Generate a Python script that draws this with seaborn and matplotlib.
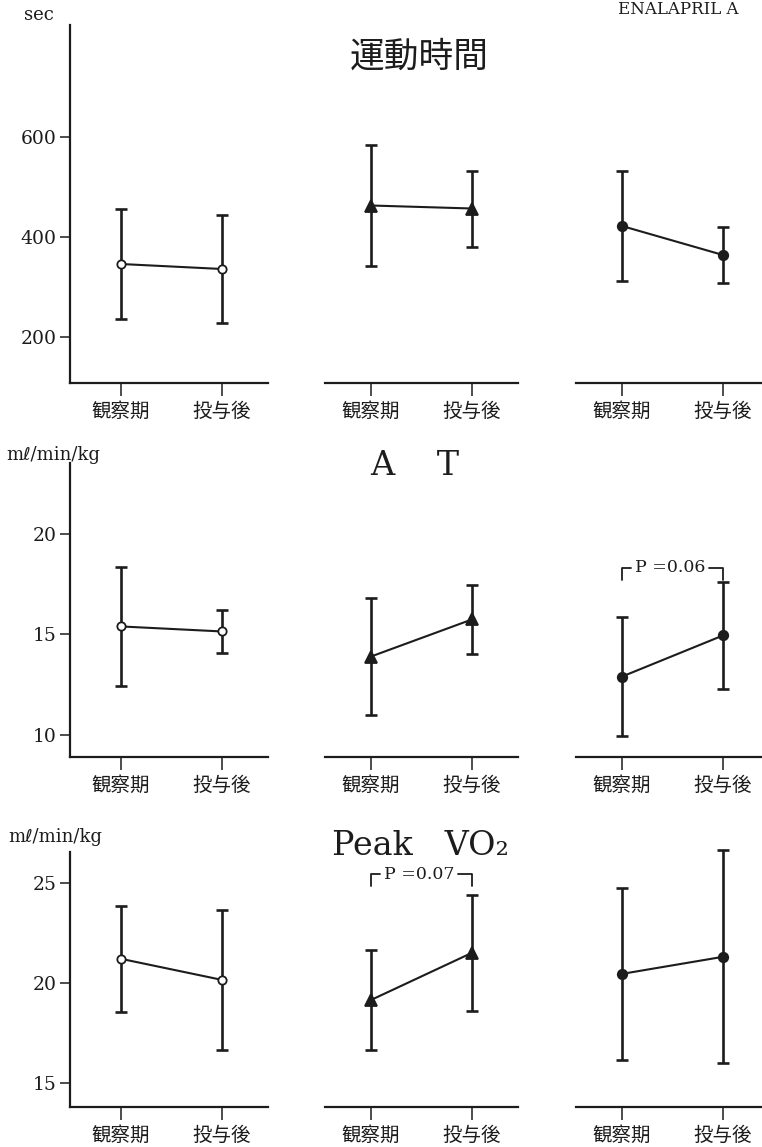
import matplotlib
matplotlib.use("Agg")
import matplotlib.pyplot as plt
import seaborn as sns
import pandas as pd

# x categories
periods = ["観察期", "投与後"]

# 運動時間 (sec), mean and SD for the three groups
ex_g1_mean = [345, 335]
ex_g1_sd = [110, 108]
ex_g2_mean = [462, 456]
ex_g2_sd = [121, 76]
ex_g3_mean = [421, 363]
ex_g3_sd = [110, 56]

# AT (ml/min/kg)
at_g1_mean = [15.4, 15.15]
at_g1_sd = [2.95, 1.05]
at_g2_mean = [13.9, 15.75]
at_g2_sd = [2.9, 1.7]
at_g3_mean = [12.9, 14.95]
at_g3_sd = [2.95, 2.65]

# Peak VO2 (ml/min/kg)
vo_g1_mean = [21.2, 20.15]
vo_g1_sd = [2.65, 3.5]
vo_g2_mean = [19.15, 21.5]
vo_g2_sd = [2.5, 2.9]
vo_g3_mean = [20.45, 21.3]
vo_g3_sd = [4.3, 5.3]

ex_ticks = [200, 400, 600]
at_ticks = [10, 15, 20]
vo_ticks = [15, 20, 25]

W, H = 762, 1147
INK = "#1c1c1c"
SERIF = ["DejaVu Serif", "DejaVu Sans"]
JP = ["Noto Sans CJK JP", "DejaVu Sans"]

sns.set_theme(style="ticks")
plt.rcParams["font.family"] = SERIF
plt.rcParams["axes.edgecolor"] = INK
plt.rcParams["xtick.color"] = INK
plt.rcParams["ytick.color"] = INK

fig = plt.figure(figsize=(W / 100, H / 100), dpi=100)
fig.patch.set_facecolor("white")


def px_axes(left, top, width, bottom):
    return fig.add_axes([left / W, 1 - bottom / H, width / W, (bottom - top) / H])


def draw_group(ax, mean, sd, marker, face, msize):
    df = pd.DataFrame({"x": [0, 1], "y": mean})
    eb = ax.errorbar(df["x"], df["y"], yerr=sd, fmt="none", ecolor=INK,
                     elinewidth=1.9, capsize=4.6, capthick=1.9, zorder=2)
    for art in eb.lines[1] + eb.lines[2]:
        art.set_clip_on(False)
    sns.lineplot(data=df, x="x", y="y", ax=ax, color=INK, linewidth=1.5,
                 marker=marker, markersize=msize, markerfacecolor=face,
                 markeredgecolor=INK, markeredgewidth=1.3, zorder=3)


def style_axes(ax, ylim, yticks, first, x0):
    ax.set_xlim(x0, 1.455)
    ax.set_ylim(*ylim)
    ax.set_xticks([0, 1])
    ax.set_xticklabels(periods, family=JP, fontsize=14)
    ax.set_xlabel("")
    ax.set_ylabel("")
    ax.tick_params(axis="x", length=9, width=1.1, pad=4)
    for s in ["top", "right"]:
        ax.spines[s].set_visible(False)
    ax.spines["bottom"].set_linewidth(1.6)
    ax.spines["left"].set_linewidth(1.6)
    if first:
        ax.set_yticks(yticks)
        ax.set_yticklabels([str(t) for t in yticks], fontsize=13.5)
        ax.tick_params(axis="y", length=7.5, width=1.1, pad=2)
    else:
        ax.spines["left"].set_visible(False)
        ax.set_yticks([])
    ax.patch.set_alpha(0)


def bracket(ax, y_top, y_bot, text):
    ax.plot([0, 0, 0.09], [y_bot, y_top, y_top], color=INK, lw=1.3)
    ax.plot([0.86, 1, 1], [y_top, y_top, y_bot], color=INK, lw=1.3)
    ax.text(0.475, y_top, text, ha="center", va="center", fontsize=12.5, color=INK)


group_x = [121, 371, 622]
rows = [
    dict(top=25, bottom=383, ylim=(107, 823), ticks=ex_ticks,
         means=[ex_g1_mean, ex_g2_mean, ex_g3_mean], sds=[ex_g1_sd, ex_g2_sd, ex_g3_sd]),
    dict(top=463, bottom=757, ylim=(8.89, 23.55), ticks=at_ticks,
         means=[at_g1_mean, at_g2_mean, at_g3_mean], sds=[at_g1_sd, at_g2_sd, at_g3_sd]),
    dict(top=852, bottom=1107, ylim=(13.82, 26.52), ticks=vo_ticks,
         means=[vo_g1_mean, vo_g2_mean, vo_g3_mean], sds=[vo_g1_sd, vo_g2_sd, vo_g3_sd]),
]
markers = [("o", "white", 6.0), ("^", INK, 9.0), ("o", INK, 6.8)]

axes = []
for r, row in enumerate(rows):
    row_axes = []
    for g in range(3):
        first = g == 0
        margin = 51 if first else 46.5
        x0 = -margin / 101
        ax = px_axes(group_x[g] - margin, row["top"], (1.455 - x0) * 101, row["bottom"])
        m, face, ms = markers[g]
        draw_group(ax, row["means"][g], row["sds"][g], m, face, ms)
        style_axes(ax, row["ylim"], row["ticks"], first, x0)
        row_axes.append(ax)
    axes.append(row_axes)

bracket(axes[1][2], 18.32, 17.72, "P =0.06")
bracket(axes[2][1], 25.42, 24.82, "P =0.07")

# titles and unit labels
fig.text(419 / W, 1 - 57 / H, "運動時間", family=JP, fontsize=25, ha="center", va="center", color=INK)
fig.text(415 / W, 1 - 466 / H, "A    T", fontsize=24, ha="center", va="center", color=INK)
fig.text(420 / W, 1 - 846 / H, "Peak   VO₂", fontsize=24, ha="center", va="center", color=INK)
fig.text(39 / W, 1 - 15 / H, "sec", fontsize=13, ha="center", va="center", color=INK)
fig.text(53 / W, 1 - 455 / H, "mℓ/min/kg", fontsize=13, ha="center", va="center", color=INK)
fig.text(55 / W, 1 - 837 / H, "mℓ/min/kg", fontsize=13, ha="center", va="center", color=INK)
fig.text(618 / W, 1 - 0.5 / H, "ENALAPRIL A", fontsize=12, ha="left", va="top", color=INK)

fig.savefig("out.png", dpi=100)
